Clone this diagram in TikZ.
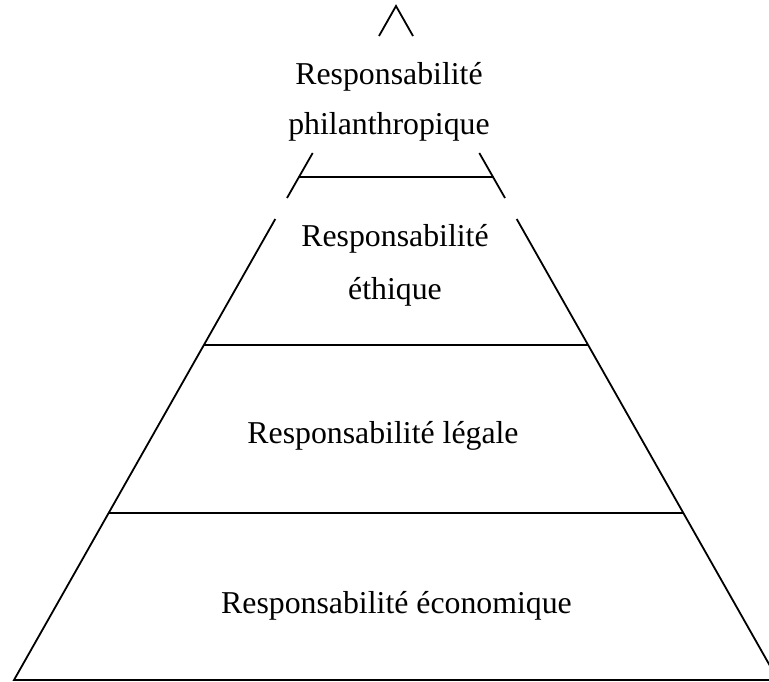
\documentclass[tikz,border=0pt]{standalone}
\usepackage{fontspec}
\setmainfont{Liberation Serif}
\begin{document}
\begin{tikzpicture}[x=1pt,y=-1pt,line width=1.8pt,
  layer/.style={font=\fontsize{31.8}{50}\selectfont,align=center,anchor=base,inner sep=0pt}]
\useasboundingbox (0,0) rectangle (769,682);
\clip (0,0) rectangle (769,682);
\coordinate (apex) at (396,6);
\coordinate (bl) at (14,680);
\coordinate (br) at (778,680);
% sides, broken where the top labels sit
\draw (379,36) -- (apex) -- (413,36);
\draw (312.7,153) -- (287,198);
\draw (479.3,153) -- (505,198);
\draw (275.3,219) -- (bl) -- (br) -- (516.7,219);
% dividing lines
\draw (299,177) -- (493,177);
\draw (203.9,345) -- (588.1,345);
\draw (108.6,513) -- (683.4,513);
\node[layer] (phil) at (389,135) {Responsabilité\\philanthropique};
\node[layer] (eth) at (395,299) {Responsabilité\\[3pt]éthique};
\node[layer] (leg) at (383,443) {Responsabilité légale};
\node[layer] (eco) at (396.5,613) {Responsabilité économique};
\end{tikzpicture}
\end{document}
